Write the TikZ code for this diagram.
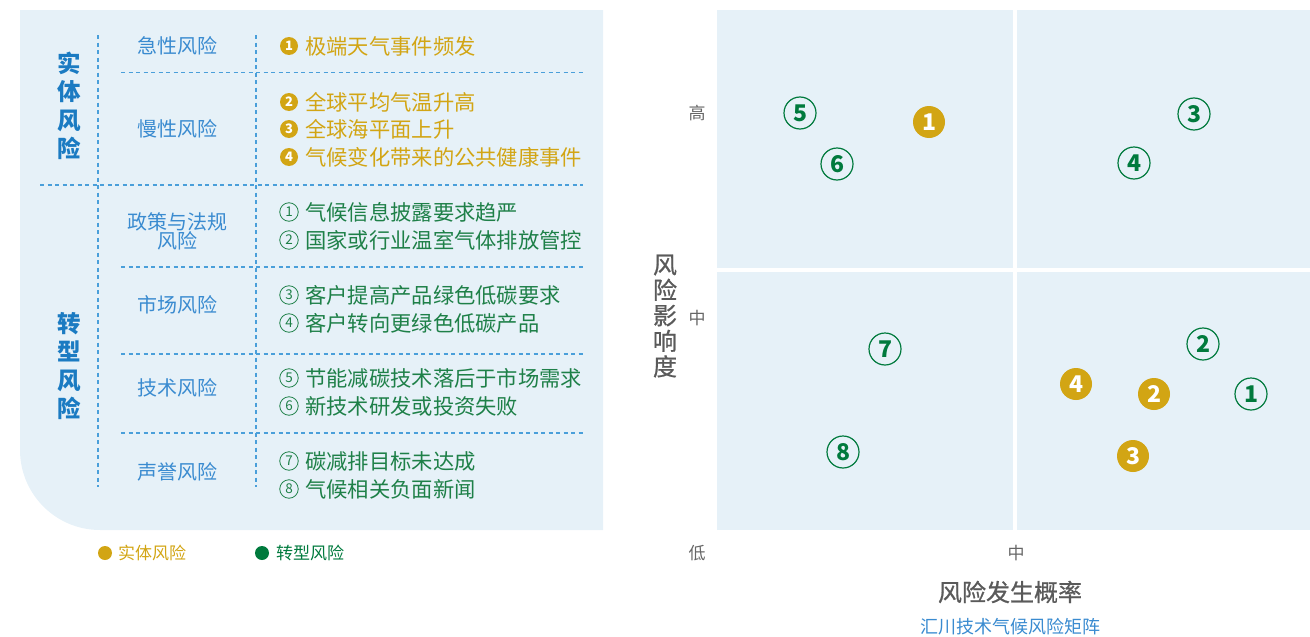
\documentclass[tikz,border=0pt]{standalone}
\usepackage{fontspec}
\setmainfont{Noto Sans CJK SC}
\newfontfamily\medfont[FakeBold=0.8]{Noto Sans CJK SC}
\definecolor{bgblue}{HTML}{E6F1F8}
\definecolor{dashc}{HTML}{4A9FDA}
\definecolor{catblue}{HTML}{1B7BC2}
\definecolor{subblue}{HTML}{3A8BD0}
\definecolor{goldc}{HTML}{D2A514}
\definecolor{greentxt}{HTML}{1E8048}
\definecolor{greenm}{HTML}{007A3D}
\definecolor{grayc}{HTML}{666666}
\definecolor{titlegray}{HTML}{5A5A5A}
\begin{document}
\begin{tikzpicture}[x=1pt,y=-1pt,
  dl/.style={draw=dashc, line width=1.3pt, dash pattern=on 4pt off 3.5pt},
  cat/.style={text=catblue, font=\fontsize{23.5}{28.5}\selectfont\bfseries, align=center, inner sep=0pt},
  sub/.style={text=subblue, font=\fontsize{20}{19}\selectfont, align=center, inner sep=0pt},
  itg/.style={text=goldc, font=\fontsize{21.3}{21.3}\selectfont, anchor=west, inner sep=0pt},
  itr/.style={text=greentxt, font=\fontsize{21.3}{21.3}\selectfont, anchor=west, inner sep=0pt},
  gnum/.style={circle, fill=goldc, text=white, minimum size=18pt, inner sep=0pt, font=\fontsize{13}{13}\selectfont\bfseries},
  rnum/.style={circle, draw=greentxt, line width=0.8pt, text=greentxt, minimum size=18.5pt, inner sep=0pt, font=\fontsize{13.5}{13.5}\selectfont},
  pmark/.style={circle, fill=goldc, text=white, minimum size=32pt, inner sep=0pt, font=\fontsize{23}{23}\selectfont\bfseries},
  gmark/.style={circle, draw=greenm, line width=1.2pt, text=greenm, minimum size=32pt, inner sep=0pt, font=\fontsize{23}{23}\selectfont\bfseries},
  axl/.style={text=grayc, font=\fontsize{17}{17}\selectfont, inner sep=0pt},
  legtxt/.style={font=\fontsize{17}{17}\selectfont, anchor=west, inner sep=0pt}
]
\useasboundingbox (0,0) rectangle (1310,637);

% left panel background
\fill[bgblue] (20,10) -- (20,450) arc(180:90:80) -- (603,530) -- (603,10) -- cycle;

% dashed grid
\draw[dl] (98,35) -- (98,487);
\draw[dl] (256,35) -- (256,487);
\draw[dl] (121,72.5) -- (583,72.5);
\draw[dl] (40,185) -- (583,185);
\draw[dl] (121,267) -- (583,267);
\draw[dl] (121,354) -- (583,354);
\draw[dl] (121,433) -- (583,433);

% categories
\node[cat] (catA) at (69,106) {实\\体\\风\\险};
\node[cat] (catB) at (69,366) {转\\型\\风\\险};

% sub categories
\node[sub] (s1) at (177,46) {急性风险};
\node[sub] (s2) at (177,129) {慢性风险};
\node[sub] (s3) at (177,231) {政策与法规\\风险};
\node[sub] (s4) at (177,305) {市场风险};
\node[sub] (s5) at (177,388) {技术风险};
\node[sub] (s6) at (177,472) {声誉风险};

% physical risk items
\foreach \n/\yy/\t in {1/46/极端天气事件频发, 2/102/全球平均气温升高, 3/129/全球海平面上升, 4/157/气候变化带来的公共健康事件}{
  \node[gnum] (gn\n) at (289,\yy) {\n};
  \node[itg] (gt\n) at (305,\yy) {\t};
}
% transition risk items
\foreach \n/\yy/\t in {1/212/气候信息披露要求趋严, 2/240/国家或行业温室气体排放管控, 3/295/客户提高产品绿色低碳要求, 4/323/客户转向更绿色低碳产品, 5/378/节能减碳技术落后于市场需求, 6/406/新技术研发或投资失败, 7/461/碳减排目标未达成, 8/489/气候相关负面新闻}{
  \node[rnum] (rn\n) at (289,\yy) {\n};
  \node[itr] (rt\n) at (305,\yy) {\t};
}

% legend
\node[circle, fill=goldc, minimum size=14pt, inner sep=0pt] (lgA) at (105,553) {};
\node[legtxt, text=goldc] (lgAt) at (118,553) {实体风险};
\node[circle, fill=greenm, minimum size=14pt, inner sep=0pt] (lgB) at (262,553) {};
\node[legtxt, text=greenm] (lgBt) at (276,553) {转型风险};

% matrix quadrants
\fill[bgblue] (717,10) rectangle (1013,268);
\fill[bgblue] (1017,10) rectangle (1310,268);
\fill[bgblue] (717,272) rectangle (1013,530);
\fill[bgblue] (1017,272) rectangle (1310,530);

% axis labels
\node[axl] (yh) at (697,113) {高};
\node[axl] (ym) at (697,318) {中};
\node[axl] (yl) at (697,553) {低};
\node[axl] (xm) at (1016,553) {中};
\node[text=titlegray, font=\fontsize{24}{25.5}\selectfont\medfont, align=center, inner sep=0pt] (ytitle) at (665,316) {风\\险\\影\\响\\度};
\node[text=titlegray, font=\fontsize{24}{24}\selectfont\medfont, inner sep=0pt] (xtitle) at (1010,592) {风险发生概率};
\node[text=subblue, font=\fontsize{18}{18}\selectfont, inner sep=0pt] (cap) at (1010,627) {汇川技术气候风险矩阵};

% markers
\node[pmark] (p1) at (929,122) {1};
\node[pmark] (p2) at (1154,394) {2};
\node[pmark] (p3) at (1133,456) {3};
\node[pmark] (p4) at (1076,384) {4};
\node[gmark] (m1) at (1251,394) {1};
\node[gmark] (m2) at (1203,344) {2};
\node[gmark] (m3) at (1194,114) {3};
\node[gmark] (m4) at (1134,163) {4};
\node[gmark] (m5) at (800,113) {5};
\node[gmark] (m6) at (837,164) {6};
\node[gmark] (m7) at (885,349) {7};
\node[gmark] (m8) at (843,452) {8};
\end{tikzpicture}
\end{document}
